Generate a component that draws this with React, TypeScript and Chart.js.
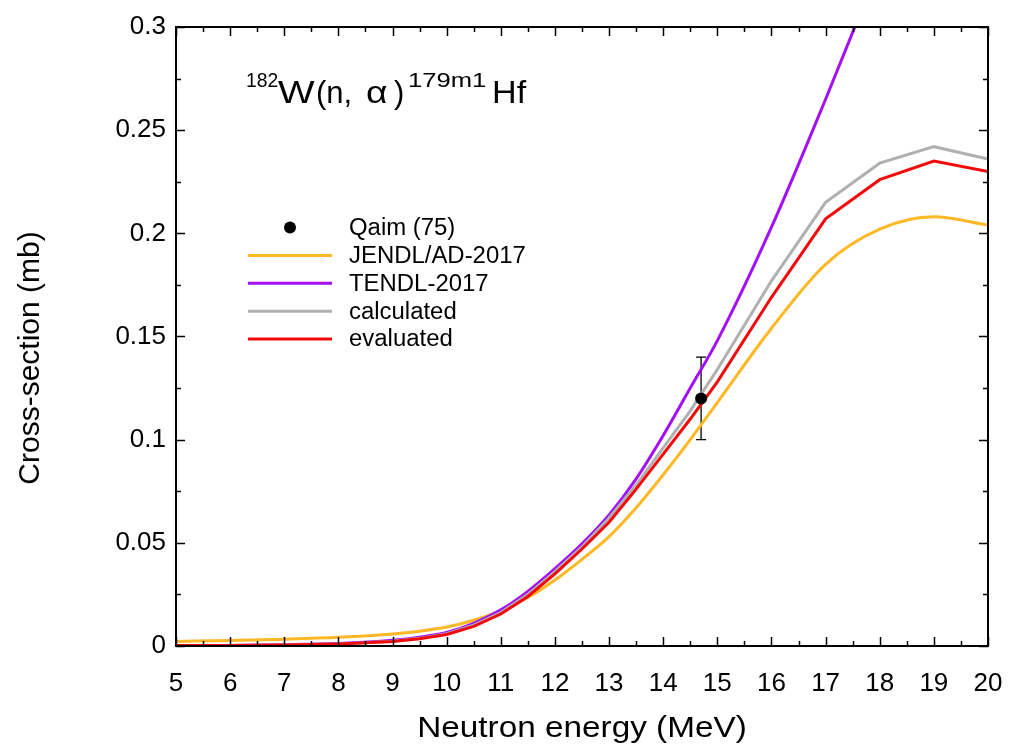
import React, { useEffect, useRef } from "react";
import { Chart, registerables } from "chart.js";

Chart.register(...registerables);

// Neutron energies (MeV) shared by all evaluated / calculated curves
const energies = [5, 6, 7, 8, 9, 9.5, 10, 10.5, 11, 11.5, 12, 12.5, 13, 13.5, 14, 14.5, 15, 16, 17, 18, 19, 20];

// Cross-sections (mb)
const jendlAD2017 = [0.0022, 0.0027, 0.0033, 0.0042, 0.0058, 0.0072, 0.0092, 0.0125, 0.017, 0.0235, 0.032, 0.042, 0.053, 0.067, 0.083, 0.1, 0.118, 0.154, 0.185, 0.202, 0.208, 0.204];
const tendl2017 = [0.0002, 0.0003, 0.0006, 0.0012, 0.0028, 0.0043, 0.0066, 0.011, 0.0175, 0.0265, 0.0375, 0.0495, 0.0635, 0.081, 0.102, 0.125, 0.148, 0.203, 0.265, 0.33, null, null];
const calculated = [0.0002, 0.0003, 0.0005, 0.001, 0.0023, 0.0037, 0.006, 0.0101, 0.0162, 0.025, 0.036, 0.048, 0.062, 0.078, 0.096, 0.114, 0.134, 0.177, 0.215, 0.234, 0.242, 0.236];
const evaluated = [0.0002, 0.0003, 0.0005, 0.001, 0.0022, 0.0035, 0.0056, 0.0095, 0.0155, 0.024, 0.035, 0.047, 0.06, 0.076, 0.093, 0.11, 0.128, 0.169, 0.207, 0.226, 0.235, 0.23];

// Qaim (1975) measurement with uncertainty
const qaimEnergy = [14.7];
const qaimValue = [0.12];
const qaimLow = [0.1];
const qaimHigh = [0.14];

// Axis ranges and ticks
const xMin = 5;
const xMax = 20;
const xMajorTicks = [5, 6, 7, 8, 9, 10, 11, 12, 13, 14, 15, 16, 17, 18, 19, 20];
const yMin = 0;
const yMax = 0.3;
const yMajorTicks = [0, 0.05, 0.1, 0.15, 0.2, 0.25, 0.3];

const FONT = '"Liberation Sans", Arial, Helvetica, sans-serif';

const COLORS = {
  jendl: "#FDB825",
  tendl: "#A410F5",
  calculated: "#B0B0B0",
  evaluated: "#F20A0A",
};

const toPoints = (ys: (number | null)[]) => energies.map((x, i) => ({ x, y: ys[i] }));

// Error bar of the measured point, drawn beneath the curves
const errorBarPlugin = {
  id: "errorBars",
  beforeDatasetsDraw(chart: any) {
    const { ctx, scales } = chart;
    const xs = scales.x;
    const ys = scales.y;
    ctx.save();
    ctx.strokeStyle = "#000";
    ctx.lineWidth = 1.3;
    qaimEnergy.forEach((e, i) => {
      const px = xs.getPixelForValue(e);
      const top = ys.getPixelForValue(qaimHigh[i]);
      const bot = ys.getPixelForValue(qaimLow[i]);
      ctx.beginPath();
      ctx.moveTo(px, top);
      ctx.lineTo(px, bot);
      ctx.moveTo(px - 5, top);
      ctx.lineTo(px + 5, top);
      ctx.moveTo(px - 5, bot);
      ctx.lineTo(px + 5, bot);
      ctx.stroke();
    });
    ctx.restore();
  },
};

// Text drawn with a horizontal stretch factor
const wideText = (ctx: any, text: string, x: number, y: number, sx: number) => {
  ctx.save();
  ctx.translate(x, y);
  ctx.scale(sx, 1);
  ctx.fillText(text, 0, 0);
  ctx.restore();
};

// Frame, inward ticks on all four sides, axis titles, reaction label and key
const decorPlugin = {
  id: "decor",
  afterDraw(chart: any) {
    const { ctx, chartArea: a, scales } = chart;
    const xs = scales.x;
    const ys = scales.y;
    ctx.save();

    // inward ticks
    ctx.strokeStyle = "#000";
    ctx.lineWidth = 1.5;
    ctx.beginPath();
    for (let v = xMin; v <= xMax + 1e-9; v += 0.5) {
      const len = Math.abs(v - Math.round(v)) < 1e-9 ? 9 : 5;
      const px = Math.round(xs.getPixelForValue(v)) + 0.5;
      ctx.moveTo(px, a.bottom);
      ctx.lineTo(px, a.bottom - len);
      ctx.moveTo(px, a.top);
      ctx.lineTo(px, a.top + len);
    }
    for (let k = 0; k <= 12; k++) {
      const v = k * 0.025;
      const len = k % 2 === 0 ? 9 : 5;
      const py = Math.round(ys.getPixelForValue(v)) + 0.5;
      ctx.moveTo(a.left, py);
      ctx.lineTo(a.left + len, py);
      ctx.moveTo(a.right, py);
      ctx.lineTo(a.right - len, py);
    }
    ctx.stroke();

    // frame
    ctx.lineWidth = 2;
    ctx.strokeRect(a.left, a.top, a.right - a.left, a.bottom - a.top);

    ctx.fillStyle = "#000";

    // axis titles
    ctx.font = `30px ${FONT}`;
    ctx.textAlign = "center";
    ctx.textBaseline = "alphabetic";
    wideText(ctx, "Neutron energy (MeV)", (a.left + a.right) / 2, 737, 1.11);
    ctx.save();
    ctx.translate(39, 358);
    ctx.rotate(-Math.PI / 2);
    ctx.fillText("Cross-section (mb)", 0, 0);
    ctx.restore();

    // reaction label
    ctx.textAlign = "left";
    ctx.font = `21px ${FONT}`;
    wideText(ctx, "182", 246, 87, 0.92);
    ctx.font = `31px ${FONT}`;
    wideText(ctx, "W", 278, 103, 1.25);
    ctx.fillText("(n,", 316, 103);
    wideText(ctx, "\u03b1", 366, 103, 1.2);
    ctx.fillText(")", 394, 103);
    ctx.font = `21px ${FONT}`;
    wideText(ctx, "179m1", 408, 87, 1.22);
    ctx.font = `31px ${FONT}`;
    wideText(ctx, "Hf", 492, 103, 1.1);

    // key
    const rowY0 = 227.5;
    const rowStep = 27.9;
    ctx.font = `23px ${FONT}`;
    ctx.textBaseline = "middle";
    const keyOrder = ["Qaim (75)", "JENDL/AD-2017", "TENDL-2017", "calculated", "evaluated"];
    keyOrder.forEach((label, i) => {
      const ds = chart.data.datasets.find((d: any) => d.label === label);
      const y = rowY0 + i * rowStep;
      if (ds.showLine === false) {
        ctx.beginPath();
        ctx.arc(290, y, 6, 0, Math.PI * 2);
        ctx.fillStyle = "#000";
        ctx.fill();
      } else {
        ctx.strokeStyle = ds.borderColor;
        ctx.lineWidth = 3;
        ctx.beginPath();
        ctx.moveTo(248, y);
        ctx.lineTo(332, y);
        ctx.stroke();
      }
      ctx.fillStyle = "#000";
      wideText(ctx, label, 349, y + 1, 1.04);
    });

    ctx.restore();
  },
};

export default function App() {
  const canvasRef = useRef<HTMLCanvasElement | null>(null);

  useEffect(() => {
    const canvas = canvasRef.current;
    if (!canvas) return;

    const chart = new Chart(canvas, {
      type: "line",
      data: {
        datasets: [
          {
            label: "Qaim (75)",
            data: qaimEnergy.map((x, i) => ({ x, y: qaimValue[i] })),
            showLine: false,
            pointRadius: 6,
            pointBackgroundColor: "#000",
            pointBorderColor: "#000",
            pointBorderWidth: 0,
            borderColor: "#000",
            order: 0,
          },
          {
            label: "JENDL/AD-2017",
            data: toPoints(jendlAD2017),
            borderColor: COLORS.jendl,
            borderWidth: 3,
            pointRadius: 0,
            cubicInterpolationMode: "monotone",
            order: 4,
          },
          {
            label: "TENDL-2017",
            data: toPoints(tendl2017),
            borderColor: COLORS.tendl,
            borderWidth: 3,
            pointRadius: 0,
            cubicInterpolationMode: "monotone",
            order: 3,
          },
          {
            label: "calculated",
            data: toPoints(calculated),
            borderColor: COLORS.calculated,
            borderWidth: 3,
            pointRadius: 0,
            tension: 0,
            order: 2,
          },
          {
            label: "evaluated",
            data: toPoints(evaluated),
            borderColor: COLORS.evaluated,
            borderWidth: 3,
            pointRadius: 0,
            tension: 0,
            order: 1,
          },
        ],
      },
      options: {
        responsive: false,
        animation: false,
        events: [],
        layout: { padding: { left: 0, right: 21, top: 27, bottom: 0 } },
        plugins: {
          legend: { display: false },
          tooltip: { enabled: false },
          title: { display: false },
        },
        scales: {
          x: {
            type: "linear",
            min: xMin,
            max: xMax,
            afterBuildTicks: (s: any) => {
              s.ticks = xMajorTicks.map((value) => ({ value }));
            },
            afterFit: (s: any) => {
              s.height = 753 - 646;
              s.paddingLeft = 0;
              s.paddingRight = 0;
            },
            grid: { display: false, drawTicks: false },
            border: { display: false },
            ticks: {
              color: "#000",
              font: { family: FONT, size: 26 },
              padding: 22,
              maxRotation: 0,
              autoSkip: false,
              callback: (v: any) => String(v),
            },
          },
          y: {
            type: "linear",
            min: yMin,
            max: yMax,
            afterBuildTicks: (s: any) => {
              s.ticks = yMajorTicks.map((value) => ({ value }));
            },
            afterFit: (s: any) => {
              s.width = 176;
              s.paddingTop = 0;
              s.paddingBottom = 0;
            },
            grid: { display: false, drawTicks: false },
            border: { display: false },
            ticks: {
              color: "#000",
              font: { family: FONT, size: 26 },
              padding: 10,
              autoSkip: false,
              callback: (v: any) => String(+Number(v).toFixed(3)),
            },
          },
        },
      },
      plugins: [errorBarPlugin, decorPlugin],
    } as any);

    return () => chart.destroy();
  }, []);

  return (
    <div style={{ position: "absolute", left: 0, top: 0, width: 1009, height: 753, background: "#fff" }}>
      <canvas ref={canvasRef} width={1009} height={753} style={{ display: "block" }} />
    </div>
  );
}
